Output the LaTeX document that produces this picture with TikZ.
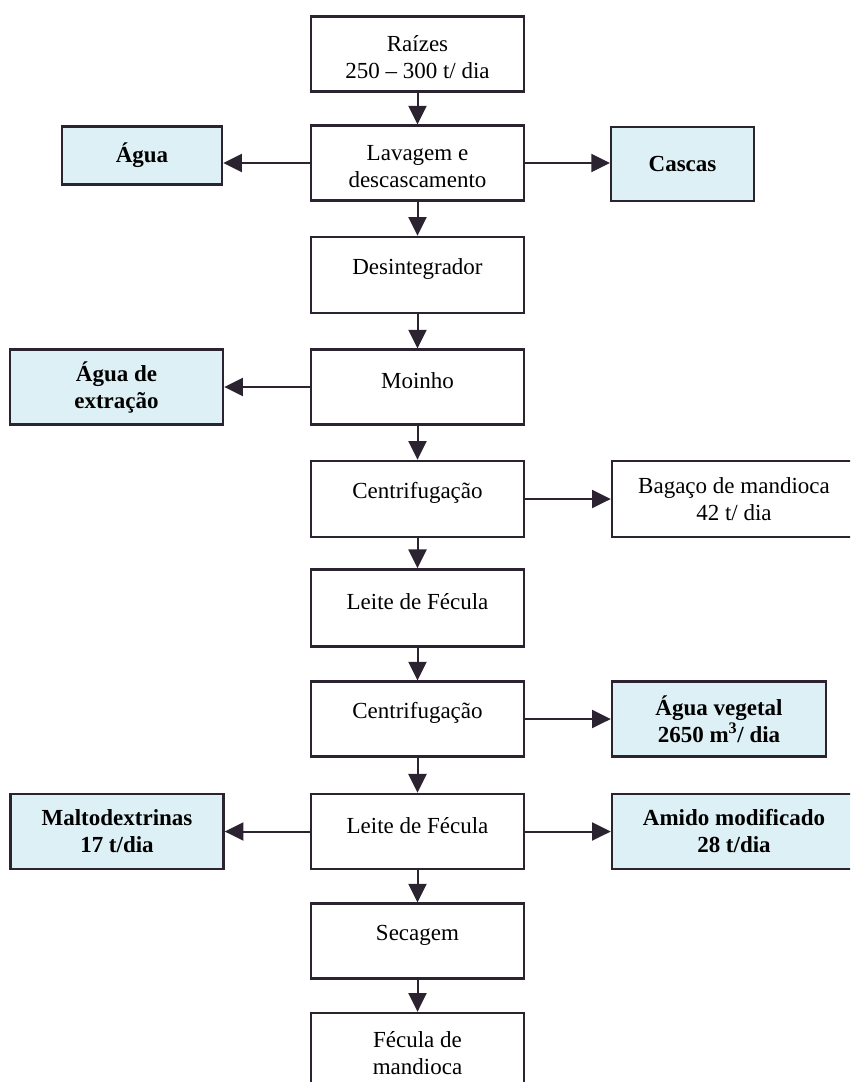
\documentclass[tikz,border=0pt]{standalone}
\usepackage{fontspec}
\setmainfont{Liberation Serif}
\usetikzlibrary{arrows.meta}
\definecolor{boxblue}{HTML}{DDF0F5}
\definecolor{edgecol}{HTML}{2B2330}
\newcommand\uptext[1]{\raisebox{4.5pt}[\height][\depth]{#1}}
\newcommand\downtext[1]{\raisebox{-4pt}[\height][\depth]{\begin{tabular}{@{}c@{}}#1\end{tabular}}}
\begin{document}
\begin{tikzpicture}[x=0.75pt,y=-0.75pt,
  box/.style={draw=edgecol,line width=1.8pt,fill=white,align=center,inner sep=0pt,
    font=\fontsize{17.25}{20.25}\selectfont,minimum width=159.75pt,minimum height=56pt},
  side/.style={box,fill=boxblue,font=\fontsize{17.25}{20.25}\selectfont\bfseries},
  flow/.style={draw=edgecol,line width=1.5pt,-{Triangle[length=14pt,width=13.5pt]}}]
\useasboundingbox (0,0) rectangle (850,1082);
\clip (0,0) rectangle (850,1082);
% central column
\node[box] (raiz) at (417.5,54) {\downtext{Raízes\\250 – 300 t/ dia}};
\node[box] (lav) at (417.5,163) {\downtext{Lavagem e\\descascamento}};
\node[box,minimum height=57pt] (des) at (417.5,275) {\uptext{Desintegrador}};
\node[box] (moi) at (417.5,387) {\uptext{Moinho}};
\node[box,minimum height=57pt] (cen1) at (417.5,499) {\uptext{Centrifugação}};
\node[box,minimum height=58pt] (lei1) at (417.5,608) {\uptext{Leite de Fécula}};
\node[box] (cen2) at (417.5,719) {\uptext{Centrifugação}};
\node[box,minimum height=56.5pt] (lei2) at (417.5,831.5) {\uptext{Leite de Fécula}};
\node[box] (sec) at (417.5,941) {\uptext{Secagem}};
\node[box,minimum height=60pt] (fec) at (417.5,1053) {Fécula de\\mandioca};
% side boxes
\node[side,minimum width=120pt,minimum height=43.5pt] (agua) at (142,155.5) {Água};
\node[side,minimum width=107pt,minimum height=55.5pt] (casc) at (682.5,164) {Cascas};
\node[side] (aext) at (116.5,387) {Água de\\extração};
\node[box,minimum width=183pt,minimum height=57pt] (bag) at (734,499) {Bagaço de mandioca\\42 t/ dia};
\node[side,minimum width=160.5pt] (aveg) at (719,719) {Água vegetal\\2650 m\textsuperscript{3}/ dia};
\node[side] (malt) at (117,831.5) {Maltodextrinas\\17 t/dia};
\node[side,minimum width=183pt,minimum height=56.5pt] (amid) at (734,831.5) {Amido modificado\\28 t/dia};
% vertical flow
\draw[flow] (raiz) -- (lav);
\draw[flow] (lav) -- (des);
\draw[flow] (des) -- (moi);
\draw[flow] (moi) -- (cen1);
\draw[flow] (cen1) -- (lei1);
\draw[flow] (lei1) -- (cen2);
\draw[flow] (cen2) -- (lei2);
\draw[flow] (lei2) -- (sec);
\draw[flow] (sec) -- (fec);
% side flows
\draw[flow] (lav.west) -- (lav.west -| agua.east);
\draw[flow] (lav.east) -- (lav.east -| casc.west);
\draw[flow] (moi.west) -- (moi.west -| aext.east);
\draw[flow] (cen1.east) -- (cen1.east -| bag.west);
\draw[flow] (cen2.east) -- (cen2.east -| aveg.west);
\draw[flow] (lei2.west) -- (lei2.west -| malt.east);
\draw[flow] (lei2.east) -- (lei2.east -| amid.west);
\end{tikzpicture}
\end{document}
